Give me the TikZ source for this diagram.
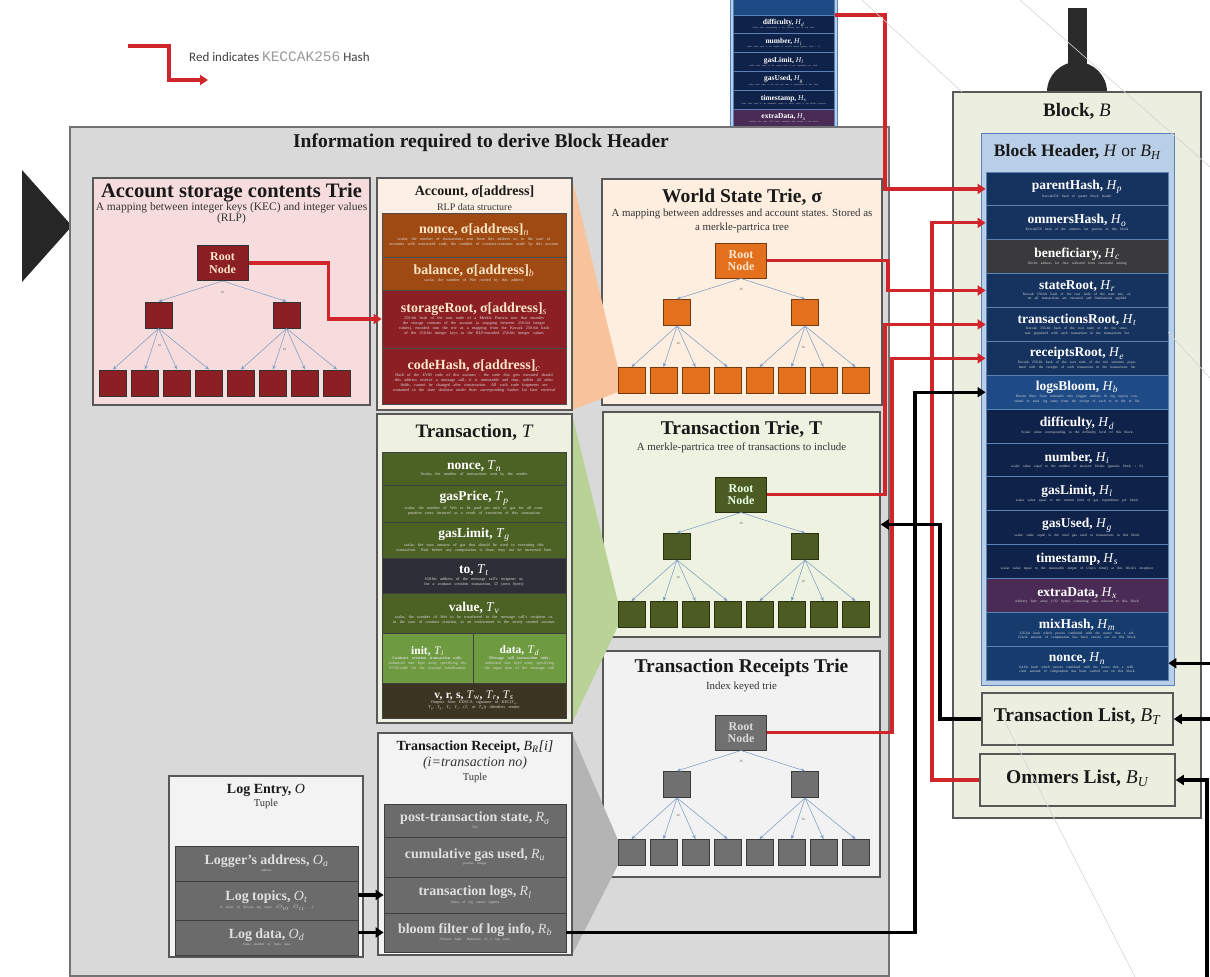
\documentclass[tikz,border=0pt]{standalone}
\usepackage{fontspec}
\setmainfont{Liberation Serif}
\newfontfamily\legendfont{Carlito}
\newfontfamily\keccakfont{Liberation Mono}
\newfontfamily\emptyfont{DejaVu Sans}
\usetikzlibrary{arrows.meta}

\definecolor{hashred}{HTML}{D0262B}
\definecolor{panelgrey}{HTML}{D9D9D9}
\definecolor{framegrey}{HTML}{585858}
\definecolor{edgeblue}{HTML}{7E9CC4}
\definecolor{descgrey}{HTML}{D8D8D8}
\definecolor{handle}{HTML}{2B2B2B}
\definecolor{faint}{HTML}{D4D4D4}
% block header
\definecolor{hdrblue}{HTML}{B9CFE8}
\definecolor{hdrline}{HTML}{5A82B6}
\definecolor{navy}{HTML}{16335F}
\definecolor{navydark}{HTML}{0F2249}
\definecolor{navylight}{HTML}{1E4A85}
\definecolor{navymid}{HTML}{163B6D}
\definecolor{benefgrey}{HTML}{3A3A3C}
\definecolor{extrapurple}{HTML}{4A2B55}
\definecolor{blockfill}{HTML}{ECEEDF}
% account
\definecolor{accfill}{HTML}{FCF0E4}
\definecolor{accorange}{HTML}{9E4A12}
\definecolor{accred}{HTML}{8B1F24}
\definecolor{acctext}{HTML}{FBE6C6}
% tries
\definecolor{storefill}{HTML}{F6DCDC}
\definecolor{worldfill}{HTML}{FDEEDF}
\definecolor{txtriefill}{HTML}{EEF2E1}
\definecolor{rctriefill}{HTML}{F2F2F2}
\definecolor{wsorange}{HTML}{E2701C}
\definecolor{wsline}{HTML}{7A3A10}
\definecolor{wstext}{HTML}{FDE8CF}
\definecolor{ttgreen}{HTML}{4B5B22}
\definecolor{ttline}{HTML}{27310E}
\definecolor{rtgrey}{HTML}{707070}
\definecolor{rtline}{HTML}{3A3A3A}
\definecolor{funorange}{HTML}{F8C29A}
\definecolor{fungreen}{HTML}{B9D397}
\definecolor{fungrey}{HTML}{B4B4B4}
% transaction
\definecolor{txfill}{HTML}{EEF1DF}
\definecolor{txgreen}{HTML}{4C6124}
\definecolor{txdark}{HTML}{2E2F36}
\definecolor{txlight}{HTML}{6E9A40}
\definecolor{txbrown}{HTML}{3C3521}
% receipts and logs
\definecolor{rcfill}{HTML}{F3F3F3}
\definecolor{rcgrey}{HTML}{6B6B6B}
\definecolor{rcline}{HTML}{3E3E3E}

\newcommand{\fld}[2]{\textmd{\textit{#1}}\textsubscript{\textmd{\textit{#2}}}}
\newcommand{\rowtext}[4]{%
  {\fontsize{#1}{#1}\selectfont\bfseries #3\par}%
  \vspace{0.6pt}%
  {\color{descgrey}\fontsize{#2}{#2}\selectfont\setlength{\baselineskip}{1.2\baselineskip}#4\par}}

% the fifteen header fields
\newcommand{\headerrows}{%
  \node[hdrbox] (hdr) at (1077.5,409) {};
  \node[hrow, fill=navy] (hp) at (1077,188.9) {\rowtext{13.5}{3.6}{parentHash, \fld{H}{p}}{Keccak256 hash of parent block header}};
  \node[hrow, fill=navy] (ho) at (1077,222.8) {\rowtext{13.5}{3.6}{ommersHash, \fld{H}{o}}{Keccak256 hash of the ommers list portion of this block}};
  \node[hrow, fill=benefgrey] (hc) at (1077,256.7) {\rowtext{13.5}{3.6}{beneficiary, \fld{H}{c}}{160-bit address for fees collected from successful mining}};
  \node[hrow, fill=navy] (hr) at (1077,290.5) {\rowtext{13.5}{3.6}{stateRoot, \fld{H}{r}}{Keccak 256-bit hash of the root node of the state trie, after all transactions are executed and finalisations applied}};
  \node[hrow, fill=navy] (ht) at (1077,324.4) {\rowtext{13.5}{3.6}{transactionsRoot, \fld{H}{t}}{Keccak 256-bit hash of the root node of the trie structure populated with each transaction in the transactions list}};
  \node[hrow, fill=navy] (he) at (1077,358.3) {\rowtext{13.5}{3.6}{receiptsRoot, \fld{H}{e}}{Keccak 256-bit hash of the root node of the trie structure populated with the receipts of each transaction in the transactions list}};
  \node[hrow, fill=navylight] (hb) at (1077,392.2) {\rowtext{13.5}{3.6}{logsBloom, \fld{H}{b}}{Bloom filter from indexable info (logger address \& log topics) contained in each log entry from the receipt of each tx in the tx list}};
  \node[hrow, fill=navydark] (hd) at (1077,426.1) {\rowtext{13.5}{3.6}{difficulty, \fld{H}{d}}{Scalar value corresponding to the difficulty level of this block}};
  \node[hrow, fill=navydark] (hi) at (1077,459.9) {\rowtext{13.5}{3.6}{number, \fld{H}{i}}{scalar value equal to the number of ancestor blocks (genesis block = 0)}};
  \node[hrow, fill=navydark] (hl) at (1077,493.8) {\rowtext{13.5}{3.6}{gasLimit, \fld{H}{l}}{scalar value equal to the current limit of gas expenditure per block}};
  \node[hrow, fill=navydark] (hg) at (1077,527.7) {\rowtext{13.5}{3.6}{gasUsed, \fld{H}{g}}{scalar value equal to the total gas used in transactions in this block}};
  \node[hrow, fill=navydark] (hs) at (1077,561.6) {\rowtext{13.5}{3.6}{timestamp, \fld{H}{s}}{scalar value equal to the reasonable output of Unix's time() at this block's inception}};
  \node[hrow, fill=extrapurple] (hx) at (1077,595.4) {\rowtext{13.5}{3.6}{extraData, \fld{H}{x}}{arbitrary byte array (<32 bytes) containing data relevant to this block}};
  \node[hrow, fill=navymid] (hm) at (1077,629.3) {\rowtext{13.5}{3.6}{mixHash, \fld{H}{m}}{256-bit hash which proves combined with the nonce that a sufficient amount of computation has been carried out on this block}};
  \node[hrow, fill=navymid] (hn) at (1077,663.2) {\rowtext{13.5}{3.6}{nonce, \fld{H}{n}}{64-bit hash which proves combined with the nonce that a sufficient amount of computation has been carried out on this block}};
}

\begin{document}
\begin{tikzpicture}[x=1pt, y=-1pt,
  box/.style={draw=framegrey, line width=1.5pt, inner sep=0pt},
  rowbox/.style={draw=#1, line width=0.8pt, inner sep=0pt, align=center, text=white},
  hdrbox/.style={draw=hdrline, fill=hdrblue, line width=1pt, minimum width=193, minimum height=552, inner sep=0pt},
  hrow/.style={rowbox=hdrline, minimum width=182, minimum height=33.87, text width=176},
  arow/.style={rowbox=black!70, minimum width=184, text width=176, text=acctext},
  trow/.style={rowbox=black!75, minimum width=184, text width=176},
  greyrow/.style={rowbox=rcline, fill=rcgrey, text=white!88!black},
  rootnode/.style={draw, line width=1pt, minimum width=51, minimum height=35, inner sep=0pt, align=center, font=\fontsize{12}{12.5}\selectfont\bfseries},
  trienode/.style={draw, line width=1pt, minimum width=27, minimum height=26, inner sep=0pt},
  tedge/.style={draw=edgeblue, line width=0.55pt, -{Stealth[length=4pt,width=3.5pt]}},
  sixteen/.style={inner sep=0pt, font=\fontsize{3.2}{3.2}\selectfont, text=black!70},
  hash/.style={draw=hashred, line width=3.2pt, -{Triangle[length=8pt,width=10pt]}},
  link/.style={draw=black, line width=3.2pt, -{Triangle[length=8pt,width=10pt]}},
  boxtitle/.style={inner sep=0pt, text=black!90, font=\bfseries\fontsize{#1}{#1}\selectfont},
  boxsub/.style={inner sep=0pt, text=black!80, align=center}
]
\useasboundingbox (0,0) rectangle (1210,977);
\fill[white] (0,0) rectangle (1210,977);

% header copy showing above the panel
\begin{scope}
  \clip (725,0) rectangle (845,127);
  \begin{scope}[shift={(185.8,-212)}, scale=0.555, transform shape]
    \node[hdrbox] (chdr) at (1077.5,409) {};
    \node[hrow, fill=navylight] (chb) at (1077,392.2) {};
    \node[hrow, fill=navydark] (chd) at (1077,426.1) {\rowtext{13.5}{3.6}{difficulty, \fld{H}{d}}{Scalar value corresponding to the difficulty level of this block}};
    \node[hrow, fill=navydark] (chi) at (1077,459.9) {\rowtext{13.5}{3.6}{number, \fld{H}{i}}{scalar value equal to the number of ancestor blocks (genesis block = 0)}};
    \node[hrow, fill=navydark] (chl) at (1077,493.8) {\rowtext{13.5}{3.6}{gasLimit, \fld{H}{l}}{scalar value equal to the current limit of gas expenditure per block}};
    \node[hrow, fill=navydark] (chg) at (1077,527.7) {\rowtext{13.5}{3.6}{gasUsed, \fld{H}{g}}{scalar value equal to the total gas used in transactions in this block}};
    \node[hrow, fill=navydark] (chs) at (1077,561.6) {\rowtext{13.5}{3.6}{timestamp, \fld{H}{s}}{scalar value equal to the reasonable output of Unix's time() at this block's inception}};
    \node[hrow, fill=extrapurple] (chx) at (1077,595.4) {\rowtext{13.5}{3.6}{extraData, \fld{H}{x}}{arbitrary byte array (<32 bytes) containing data relevant to this block}};
  \end{scope}
\end{scope}

% legend
\coordinate (lgstart) at (128,46);
\coordinate (lgend) at (208,80);
\node[anchor=west, inner sep=0pt, font=\legendfont\fontsize{13}{15}\selectfont, text=black!75] (lgtext) at (189,57) {Red indicates {\keccakfont\fontsize{14.5}{15}\selectfont\color{black!40}KECCAK256} Hash};
\draw[hash] (lgstart) -- (169,46) -- (169,80) -- (lgend);

% pointer on the left
\fill[black!85] (22,170) -- (72,226) -- (22,282) -- cycle;

% panel
\node[box, fill=panelgrey, draw=black!55, minimum width=819, minimum height=849] (info) at (479.5,551.5) {};
\node[boxtitle=19.5] (infotitle) at (481,143) {Information required to derive Block Header};

% trie boxes
\node[box, fill=storefill, minimum width=277, minimum height=227] (stbox) at (231.5,291.5) {};
\node[boxtitle=20.5] (sttitle) at (231.5,193) {Account storage contents Trie};
\node[boxsub, font=\fontsize{11.5}{11.5}\selectfont] (stsub) at (231.5,213) {A mapping between integer keys (KEC) and integer values\\(RLP)};

\node[box, fill=worldfill, minimum width=280, minimum height=226] (wsbox) at (742,292) {};
\node[boxtitle=19.5] (wstitle) at (742,197) {World State Trie, σ};
\node[boxsub, font=\fontsize{10.9}{14}\selectfont] (wssub) at (742,221) {A mapping between addresses and account states. Stored as\\a merkle-partrica tree};

\node[box, fill=txtriefill, minimum width=277, minimum height=225] (ttbox) at (741.5,524.5) {};
\node[boxtitle=19.5] (tttitle) at (741.5,429) {Transaction Trie, T};
\node[boxsub, font=\fontsize{10.9}{12}\selectfont] (ttsub) at (741.5,448) {A merkle-partrica tree of transactions to include};

\node[box, fill=rctriefill, minimum width=277, minimum height=226] (rtbox) at (741.5,764) {};
\node[boxtitle=19.5] (rttitle) at (741.5,668) {Transaction Receipts Trie};
\node[boxsub, font=\fontsize{10.9}{12}\selectfont] (rtsub) at (741.5,687) {Index keyed trie};

% funnels towards the first leaf
\fill[funorange] (572,178) -- (618,368) -- (618,392) -- (572,410) -- cycle;
\fill[fungreen] (572,414) -- (618,602) -- (618,626) -- (572,723) -- cycle;
\fill[fungrey] (572,733) -- (618,840) -- (618,865) -- (572,955) -- cycle;

% the four tries
\foreach \tr/\cx/\cy/\fc/\dc/\tc in {s/222.5/263/accred/black!80/acctext, w/741/260.5/wsorange/wsline/wstext, t/741/494.5/ttgreen/ttline/white!90!green, r/741/732.5/rtgrey/rtline/white!85!black} {
  \node[rootnode, fill=\fc, draw=\dc, text=\tc] (\tr-root) at (\cx,\cy) {Root\\Node};
  \node[trienode, fill=\fc, draw=\dc] (\tr-m1) at (\cx-64,\cy+52) {};
  \node[trienode, fill=\fc, draw=\dc] (\tr-m2) at (\cx+64,\cy+52) {};
  \foreach \k in {1,...,8} {\node[trienode, fill=\fc, draw=\dc] (\tr-l\k) at (\cx-141.5+32*\k,\cy+120) {};}
  \draw[tedge] (\tr-root.south) -- (\tr-m1.north);
  \draw[tedge] (\tr-root.south) -- (\tr-m2.north);
  \foreach \k in {1,...,4} {\draw[tedge] (\tr-m1.south) -- (\tr-l\k.north);}
  \foreach \k in {5,...,8} {\draw[tedge] (\tr-m2.south) -- (\tr-l\k.north);}
  \node[sixteen] (\tr-n0) at ([yshift=-11pt]\tr-root.south) {16};
  \node[sixteen] (\tr-n1) at ([xshift=1pt,yshift=-17pt]\tr-m1.south) {16};
  \node[sixteen] (\tr-n2) at ([xshift=-2pt,yshift=-21pt]\tr-m2.south) {16};
}

% account
\node[box, fill=accfill, minimum width=195, minimum height=232] (acbox) at (474.5,294) {};
\node[boxtitle=14] (actitle) at (474.5,192) {Account, σ[address]};
\node[boxsub, font=\fontsize{10}{11}\selectfont] (acsub) at (474.5,207) {RLP data structure};
\node[arow, fill=accorange, minimum height=44] (an) at (474,235) {\rowtext{14}{4.2}{nonce, σ[address]\textsubscript{\textmd{\textit{n}}}}{scalar, the number of transactions sent from this address or, in the case of accounts with associated code, the number of contract-creations made by this account}};
\node[arow, fill=accorange, minimum height=33] (ab) at (474,273.5) {\rowtext{14}{4.2}{balance, σ[address]\textsubscript{\textmd{\textit{b}}}}{scalar, the number of Wei owned by this address}};
\node[arow, fill=accred, minimum height=58] (asr) at (474,319) {\rowtext{14}{4.2}{storageRoot, σ[address]\textsubscript{\textmd{\textit{s}}}}{256-bit hash of the root node of a Merkle Patricia tree that encodes the storage contents of the account (a mapping between 256-bit integer values), encoded into the trie as a mapping from the Keccak 256-bit hash of the 256-bit integer keys to the RLP-encoded 256-bit integer values}};
\node[arow, fill=accred, minimum height=56] (ac) at (474,376) {\rowtext{14}{4.2}{codeHash, σ[address]\textsubscript{\textmd{\textit{c}}}}{Hash of the EVM code of this account - the code that gets executed should this address receive a message call; it is immutable and thus, unlike all other fields, cannot be changed after construction. All such code fragments are contained in the state database under their corresponding hashes for later retrieval}};

% transaction
\node[box, fill=txfill, minimum width=195, minimum height=309] (txbox) at (474.5,568.5) {};
\node[boxtitle=19] (txtitle) at (474.5,432) {Transaction, \textmd{\textit{T}}};
\node[trow, fill=txgreen, minimum height=33] (tn) at (474,468.5) {\rowtext{13.5}{4.2}{nonce, \fld{T}{n}}{Scalar, the number of transactions sent by the sender}};
\node[trow, fill=txgreen, minimum height=37] (tp) at (474,503.5) {\rowtext{13.5}{4.2}{gasPrice, \fld{T}{p}}{scalar, the number of Wei to be paid per unit of gas for all computation costs incurred as a result of execution of this transaction}};
\node[trow, fill=txgreen, minimum height=36] (tg) at (474,540) {\rowtext{13.5}{4.2}{gasLimit, \fld{T}{g}}{scalar, the max amount of gas that should be used in executing this transaction. Paid before any computation is done, may not be increased later}};
\node[trow, fill=txdark, minimum height=35] (tt) at (474,575.5) {\rowtext{13.5}{4.2}{to, \fld{T}{t}}{160-bit address of the message call's recipient or, for a contract creation transaction, {\emptyfont ∅} (zero bytes)}};
\node[trow, fill=txgreen, minimum height=40] (tv) at (474,613) {\rowtext{13.5}{4.2}{value, \fld{T}{v}}{scalar, the number of Wei to be transferred to the message call's recipient or, in the case of contract creation, as an endowment to the newly created account}};
\node[trow, fill=txlight, minimum width=91, text width=85, minimum height=50] (ti) at (427.5,658) {\rowtext{11.5}{4.2}{init, \fld{T}{i}}{\textbf{Contract creation transaction only:} unlimited size byte array specifying the EVM-code for the account initialisation}};
\node[trow, fill=txlight, minimum width=93, text width=87, minimum height=50] (td) at (519.5,658) {\rowtext{11.5}{4.2}{data, \fld{T}{d}}{\textbf{Message call transaction only:} unlimited size byte array specifying the input data of the message call}};
\node[trow, fill=txbrown, minimum height=35] (tw) at (474,700.5) {\rowtext{11.5}{4.2}{v, r, s, \fld{T}{w}, \fld{T}{r}, \fld{T}{s}}{Outputs from EDSCA signature of KEC(\fld{T}{n}, \fld{T}{p}, \fld{T}{g}, \fld{T}{t}, \fld{T}{v}, (\fld{T}{i} or \fld{T}{d})) identifies sender}};

% receipt
\node[box, fill=rcfill, minimum width=194, minimum height=222] (rcbox) at (475,844) {};
\node[boxtitle=14] (rctitle) at (475,747) {Transaction Receipt, \fld{B}{R}\textmd{\textit{[i]}}};
\node[boxsub, font=\itshape\fontsize{14}{14}\selectfont] (rcsub) at (475,763) {(i=transaction no)};
\node[boxsub, font=\fontsize{10.5}{11}\selectfont] (rctuple) at (475,778) {Tuple};
\node[greyrow, minimum width=182, text width=176, minimum height=33] (rs) at (475,820.5) {\rowtext{14}{3.4}{post-transaction state, \fld{R}{σ}}{Trie}};
\node[greyrow, minimum width=182, text width=176, minimum height=40] (ru) at (475,857) {\rowtext{14}{3.4}{cumulative gas used, \fld{R}{u}}{positive integer}};
\node[greyrow, minimum width=182, text width=176, minimum height=36] (rl) at (475,895) {\rowtext{14}{3.4}{transaction logs, \fld{R}{l}}{Series of log entries (tuples)}};
\node[greyrow, minimum width=182, text width=176, minimum height=39] (rb) at (475,932.5) {\rowtext{14}{3.4}{bloom filter of log info, \fld{R}{b}}{256-byte hash. Reduction of a log entry.}};

% log entry
\node[box, fill=rcfill, minimum width=194, minimum height=181] (lgbox) at (266,866.5) {};
\node[boxtitle=14] (lgtitle) at (266,790) {Log Entry, \textmd{\textit{O}}};
\node[boxsub, font=\fontsize{10.5}{11}\selectfont] (lgtuple) at (266,804) {Tuple};
\node[greyrow, minimum width=183, text width=177, minimum height=35] (la) at (266.5,863.5) {\rowtext{14}{3.4}{Logger's address, \fld{O}{a}}{address}};
\node[greyrow, minimum width=183, text width=177, minimum height=39] (lt) at (266.5,900.5) {\rowtext{14}{3.4}{Log topics, \fld{O}{t}}{A series of 32-byte log topics ($O_{t0}$, $O_{t1}$, ...)}};
\node[greyrow, minimum width=183, text width=177, minimum height=35] (ld) at (266.5,937.5) {\rowtext{14}{3.4}{Log data, \fld{O}{d}}{Some number of bytes data}};

% block
\fill[handle] (1068,8) rectangle (1087,70);
\fill[handle] (1047,92) arc[start angle=180, end angle=360, radius=30] -- cycle;
\node[box, fill=blockfill, minimum width=248, minimum height=726] (blk) at (1077,455) {};
\node[boxtitle=19] (blktitle) at (1077,111) {Block, \textmd{\textit{B}}};
\headerrows
\node[boxtitle=17.5] (hdrtitle) at (1077.5,152) {Block Header, \textmd{\textit{H}} \textmd{or} \fld{B}{H}};
\node[box, fill=blockfill, minimum width=191, minimum height=52] (tl) at (1077.5,719) {};
\node[boxtitle=19.5] (tltitle) at (1077.5,716) {Transaction List, \fld{B}{T}};
\node[box, fill=blockfill, minimum width=195, minimum height=52] (om) at (1077.5,780) {};
\node[boxtitle=19.5] (omtitle) at (1077.5,778) {Ommers List, \fld{B}{U}};

% connectors
\coordinate (ctop) at (835,15);
\coordinate (xa) at (885,0);
\coordinate (xs) at (888,0);
\coordinate (xr) at (892,0);
\coordinate (xl) at (915,0);
\coordinate (xo) at (932,0);
\coordinate (xt) at (940,0);
\coordinate (rim) at (1210,0);
\coordinate (obot) at (1207,977);

\draw[hash] (s-root.east) -- ++(80,0) |- (asr.west);
\draw[hash] (ctop) -- (ctop -| xa) |- (hp.west);
\draw[hash] (w-root.east) -- (w-root.east -| xs) |- (hr.west);
\draw[hash] (t-root.east) -- (t-root.east -| xa) |- (ht.west);
\draw[hash] (r-root.east) -- (r-root.east -| xr) |- (he.west);
\draw[hash] (om.west) -- (om.west -| xo) |- (ho.west);

\draw[link] (rb.east) -- (rb.east -| xl) |- (hb.west);
\draw[link] (tl.west) -- (tl.west -| xt) |- (ttbox.east);
\draw[link] (hn.east -| rim) -- (hn.east);
\draw[link] (tl.east -| rim) -- (tl.east);
\draw[link] (obot) |- (om.east);
\draw[link] (lt.east |- rl.west) -- (rl.west);
\draw[link] (ld.east |- rb.west) -- (rb.west);

% faint lines over the picture
\draw[faint, line width=0.6pt] (1020,0) -- (1210,167);
\draw[faint, line width=0.6pt] (862,0) -- (962,92);
\draw[faint, line width=0.6pt] (1168,332) -- (1210,378);
\draw[faint, line width=0.6pt] (1005,722) -- (1135,977);
\end{tikzpicture}
\end{document}
